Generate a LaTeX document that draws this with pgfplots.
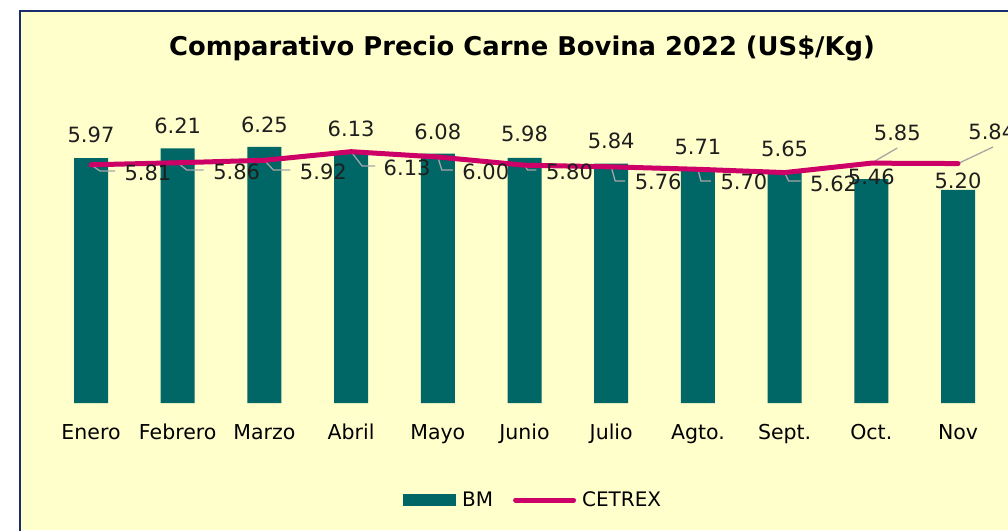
\documentclass[border=0pt]{standalone}
\usepackage{fontspec}
\setmainfont{DejaVu Sans}
\usepackage{pgfplots}
\usepackage{pgfplotstable}
\pgfplotsset{compat=1.18}
\definecolor{bgyel}{RGB}{255,255,204}
\definecolor{bmteal}{RGB}{0,102,102}
\definecolor{cemag}{RGB}{204,0,102}
\definecolor{frameblue}{RGB}{24,44,110}
\definecolor{leadergray}{RGB}{166,166,166}
\definecolor{labtxt}{RGB}{30,30,30}

\pgfplotstableread{
x bm ce
0 5.97 5.81
1 6.21 5.86
2 6.25 5.92
3 6.13 6.13
4 6.08 6.00
5 5.98 5.80
6 5.84 5.76
7 5.71 5.70
8 5.65 5.62
9 5.46 5.85
10 5.20 5.84
}\datatable

\pgfplotstableread{
lx ly lab
0 6.54 5.97
1 6.76 6.21
2 6.78 6.25
3 6.68 6.13
4 6.61 6.08
5 6.56 5.98
6 6.39 5.84
7 6.24 5.71
8 6.20 5.65
9 5.51 5.46
10 5.41 5.20
}\bmlabels

\pgfplotstableread{
lx ly lab
0.657 5.61 5.81
1.68 5.63 5.86
2.68 5.63 5.92
3.646 5.73 6.13
4.554 5.63 6.00
5.519 5.63 5.80
6.542 5.39 5.76
7.531 5.39 5.70
8.565 5.34 5.62
9.30 6.585 5.85
10.39 6.61 5.84
}\celabels

\pgfplotstableread{
x y
0 5.81
0.104 5.659
0.277 5.659
nan nan
1 5.86
1.104 5.683
1.300 5.683
nan nan
2 5.92
2.104 5.683
2.300 5.683
nan nan
3 6.13
3.127 5.780
3.277 5.780
nan nan
4 6.00
4.046 5.683
4.173 5.683
nan nan
5 5.80
5.035 5.683
5.138 5.683
nan nan
6 5.76
6.046 5.415
6.161 5.415
nan nan
7 5.70
7.035 5.415
7.150 5.415
nan nan
8 5.62
8.046 5.415
8.185 5.415
nan nan
9 5.85
9.300 6.220
nan nan
10 5.84
10.404 6.244
}\leaderdata

\begin{document}
\begin{tikzpicture}
\path[use as bounding box] (0pt,0pt) rectangle (1008pt,530pt);
\clip (0pt,0pt) rectangle (1008pt,530pt);
\fill[white] (0pt,0pt) rectangle (1008pt,530pt);
\fill[bgyel] (20pt,0pt) rectangle (1010pt,519pt);
\draw[frameblue, line width=2pt] (20pt,-2pt) -- (20pt,519pt) -- (1012pt,519pt);
\node[font=\fontsize{25.8}{25.8}\selectfont\bfseries, text=black, anchor=base] at (522pt,474pt) {Comparativo Precio Carne Bovina 2022 (US\$/Kg)};
\begin{axis}[
  at={(47.65pt,127pt)}, anchor=south west,
  scale only axis, width=953.7pt, height=287pt,
  xmin=-0.5, xmax=10.5, ymin=0, ymax=7,
  axis line style={draw=none},
  tick style={draw=none},
  ytick=\empty,
  xtick={0,1,2,3,4,5,6,7,8,9,10},
  xticklabels={Enero,Febrero,Marzo,Abril,Mayo,Junio,Julio,Agto.,Sept.,Oct.,Nov},
  xticklabel style={font=\fontsize{20.5}{20.5}\selectfont, text=black, anchor=base, yshift=-36pt},
  clip=false,
  legend columns=2,
  legend style={at={(0.509,-0.338)}, anchor=center, draw=none, fill=none,
    font=\fontsize{20}{20}\selectfont, text=black,
    /tikz/every odd column/.append style={column sep=4pt},
    /tikz/every even column/.append style={column sep=18pt}},
]
\addplot[ybar, bar width=34pt, fill=bmteal, draw=none,
  legend image code/.code={\fill[bmteal] (0pt,-6pt) rectangle (53pt,6pt);}]
  table[x=x, y=bm] {\datatable};
\addlegendentry{BM}
\addplot[leadergray, line width=1.3pt, unbounded coords=jump, forget plot] table[x=x, y=y] {\leaderdata};
\addplot[cemag, line width=5pt, mark=none, line join=round, line cap=round,
  legend image code/.code={\draw[cemag, line width=5pt, line cap=round] (0pt,0pt) -- (58pt,0pt);}]
  table[x=x, y=ce] {\datatable};
\addlegendentry{CETREX}
\addplot[draw=none, mark=none, forget plot, nodes near coords, point meta=explicit symbolic,
  every node near coord/.append style={anchor=center, font=\fontsize{21}{21}\selectfont, text=labtxt}]
  table[x=lx, y=ly, meta=lab] {\bmlabels};
\addplot[draw=none, mark=none, forget plot, nodes near coords, point meta=explicit symbolic,
  every node near coord/.append style={anchor=center, font=\fontsize{21}{21}\selectfont, text=labtxt}]
  table[x=lx, y=ly, meta=lab] {\celabels};
\end{axis}
\end{tikzpicture}
\end{document}
